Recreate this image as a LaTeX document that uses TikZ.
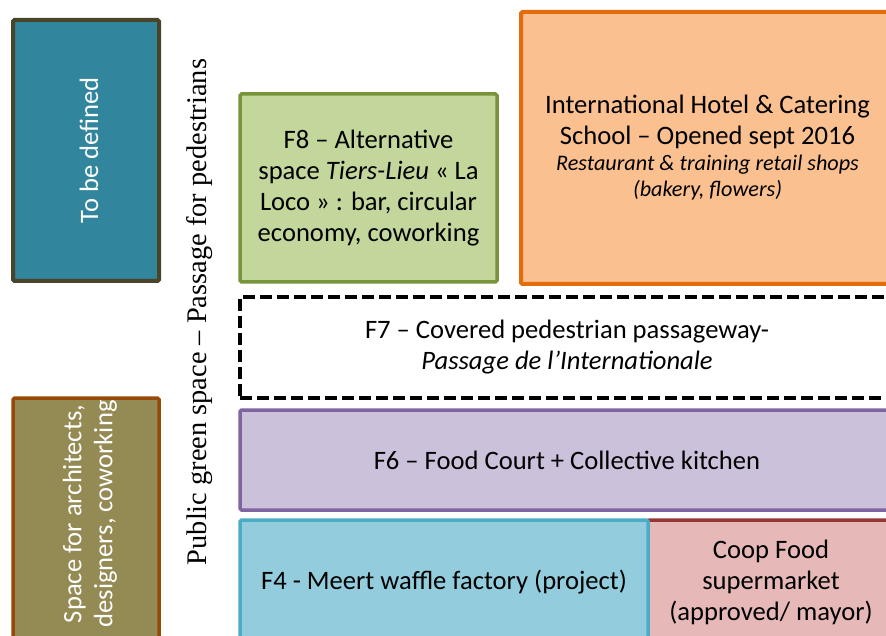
\documentclass[tikz,border=0pt]{standalone}
\usepackage{fontspec}
\setmainfont{Carlito}
\newfontfamily\greenface{Liberation Serif}
\usetikzlibrary{calc}

\definecolor{tealfill}{HTML}{31859C}
\definecolor{tealline}{HTML}{4A452A}
\definecolor{olivefill}{HTML}{948A54}
\definecolor{oliveline}{HTML}{984807}
\definecolor{greenfill}{HTML}{C3D69B}
\definecolor{greenline}{HTML}{77933C}
\definecolor{hotelfill}{HTML}{FAC090}
\definecolor{hotelline}{HTML}{E46C0A}
\definecolor{foodfill}{HTML}{CCC1DA}
\definecolor{foodline}{HTML}{8064A2}
\definecolor{wafflefill}{HTML}{93CDDD}
\definecolor{waffleline}{HTML}{4BACC6}
\definecolor{coopfill}{HTML}{E6B9B8}
\definecolor{coopline}{HTML}{953735}

\begin{document}
\begin{tikzpicture}[x=1pt, y=-1pt, inner sep=0pt, outer sep=0pt,
    every node/.style={font=\fontsize{26.6}{31}\selectfont, align=center},
    zone/.style={draw, line width=3.5pt, rounded corners=1.5pt, anchor=north west}]
    \useasboundingbox (0,0) rectangle (886,636);
    \clip (0,0) rectangle (886,636);

    % left column
    \node[zone, fill=tealfill, draw=tealline, line width=4pt,
      minimum width=146pt, minimum height=261pt] (tbd) at (13,20) {};
    \node[rotate=90, text=white] (tbd_txt) at ($(tbd.center)+(3,0)$) {To be defined};

    \node[zone, fill=olivefill, draw=oliveline,
      minimum width=146pt, minimum height=260pt] (arch) at (13,398) {};
    \node[rotate=90, text=white] (arch_txt) at ($(arch.north)+(4,116)$)
    {Space for architects,\\designers, coworking};

    % green strip
    \node[rotate=90, font=\greenface\fontsize{28.4}{32}\selectfont] (green_txt) at (200,312)
    {Public green space – Passage for pedestrians};

    % upper blocks
    \node[zone, fill=greenfill, draw=greenline,
      minimum width=257pt, minimum height=188pt] (f8) at (240,94)
    {F8 – Alternative\\space \textit{Tiers-Lieu} « La\\Loco » : bar, circular\\economy, coworking};

    \node[zone, fill=hotelfill, draw=hotelline, line width=4pt,
      minimum width=373pt, minimum height=272pt] (hotel) at (521,12)
    {International Hotel \& Catering\\School – Opened sept 2016\\[-5pt]
     {\fontsize{22.2}{25}\selectfont\itshape Restaurant \& training retail shops}\\[-5pt]
     {\fontsize{22.2}{25}\selectfont\itshape (bakery, flowers)}};

    % passage
    \node[zone, fill=white, draw=black, line width=4pt, rounded corners=0pt,
      dash pattern=on 12pt off 5pt,
      minimum width=654pt, minimum height=101pt] (f7) at (240,297)
    {F7 – Covered pedestrian passageway-\\\textit{Passage de l’Internationale}};

    \node[zone, fill=foodfill, draw=foodline,
      minimum width=654pt, minimum height=100pt] (f6) at (240,410)
    {F6 – Food Court + Collective kitchen};

    % lower blocks
    \node[zone, fill=coopfill, draw=coopline,
      minimum width=246pt, minimum height=124pt] (coop) at (648,520)
    {Coop Food\\supermarket\\(approved/ mayor)};

    \node[zone, fill=wafflefill, draw=waffleline,
      minimum width=408pt, minimum height=124pt] (f4) at (240,520)
    {F4 - Meert waffle factory (project)};

\end{tikzpicture}
\end{document}
